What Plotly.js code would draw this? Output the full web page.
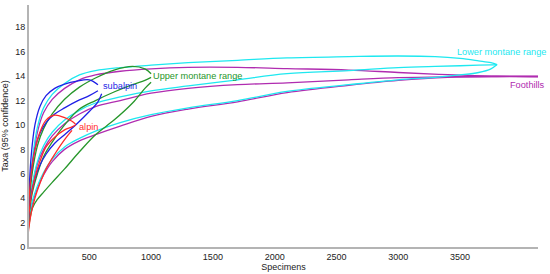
<!DOCTYPE html>
<html>
<head>
<meta charset="utf-8">
<script src="https://cdn.plot.ly/plotly-3.0.1.min.js"></script>
<style>
  body { margin: 0; background: #fff; }
  #rarefaction { width: 550px; height: 274px; }
</style>
</head>
<body>
<div id="rarefaction"></div>
<script>
// Lower montane range
var lowerMontaneX = [1, 15, 40, 80, 130, 200, 300, 420, 550, 750, 1000, 1300, 1700, 2100, 2600, 3000, 3300, 3500, 3650, 3750, 3800];
var lowerMontaneHigh = [1, 4.2, 7.2, 9.8, 11.4, 12.5, 13.4, 14.1, 14.45, 14.7, 14.9, 15.1, 15.3, 15.5, 15.6, 15.65, 15.6, 15.45, 15.25, 15.1, 14.95];
var lowerMontaneMean = [1, 3.3, 5.2, 7.0, 8.3, 9.4, 10.4, 11.2, 11.8, 12.3, 12.8, 13.2, 13.7, 14.2, 14.45, 14.7, 14.8, 14.85, 14.9, 14.93, 14.95];
var lowerMontaneLow = [1, 2.5, 3.8, 5.0, 6.1, 7.2, 8.2, 8.9, 9.5, 10.2, 10.85, 11.4, 12.0, 12.75, 13.3, 13.7, 13.9, 14.1, 14.3, 14.6, 14.95];

// Foothills
var foothillsX = [1, 15, 40, 80, 130, 200, 300, 420, 550, 750, 1000, 1300, 1700, 2100, 2600, 3000, 3400, 3800, 4131];
var foothillsHigh = [1, 4.0, 6.9, 9.4, 11.0, 12.1, 13.0, 13.7, 14.1, 14.4, 14.6, 14.72, 14.72, 14.62, 14.5, 14.3, 14.12, 14.0, 13.97];
var foothillsMean = [1, 3.2, 5.0, 6.8, 8.0, 9.1, 10.1, 10.9, 11.5, 12.0, 12.6, 13.0, 13.3, 13.45, 13.7, 13.88, 13.95, 13.97, 13.97];
var foothillsLow = [1, 2.4, 3.6, 4.8, 5.9, 7.0, 8.0, 8.7, 9.2, 9.9, 10.7, 11.3, 11.9, 12.65, 13.25, 13.65, 13.9, 13.97, 13.97];

// Upper montane range
var upperMontaneX = [1, 15, 40, 80, 130, 200, 300, 420, 550, 700, 850, 950, 1000];
var upperMontaneHigh = [1, 3.8, 6.2, 8.3, 9.7, 10.9, 12.1, 13.1, 13.85, 14.5, 14.8, 14.6, 14.2];
var upperMontaneMean = [1, 2.8, 4.5, 6.0, 7.4, 8.6, 10.0, 11.3, 12.0, 12.7, 13.3, 13.65, 13.9];
var upperMontaneLow = [1, 2.0, 3.2, 3.9, 4.5, 5.3, 6.4, 7.8, 9.2, 10.4, 11.8, 13.0, 13.5];

// subalpin
var subalpinX = [1, 10, 30, 60, 100, 150, 220, 300, 400, 500, 570, 600];
var subalpinHigh = [1, 4.0, 7.5, 10.0, 11.5, 12.4, 13.0, 13.35, 13.6, 13.7, 13.3, null];
var subalpinMean = [1, 3.5, 6.0, 8.0, 9.3, 10.2, 10.9, 11.4, 11.95, 12.4, 12.8, null];
var subalpinLow = [1, 2.5, 4.3, 5.6, 6.7, 7.6, 8.5, 9.2, 10.1, 11.1, 11.9, 12.55];

// alpin
var alpinX = [1, 10, 30, 60, 100, 150, 220, 300, 360, 390];
var alpinHigh = [1, 3.5, 6.0, 8.0, 9.4, 10.4, 10.8, 10.6, 10.3, 10.05];
var alpinMean = [0.8, 2.5, 4.2, 5.7, 7.0, 8.2, 9.0, 9.6, 9.85, 10.0];
var alpinLow = [0.5, 1.5, 2.8, 4.0, 5.2, 6.4, 7.6, 8.8, 9.55, null];

var groupNames = ["Foothills", "Lower montane range", "Upper montane range", "subalpin", "alpin"];
var groupColors = ["#b02cb0", "#1ee8f0", "#26962a", "#1f1fe6", "#ff2a2a"];

var groups = [
    {x: foothillsX, ys: [foothillsHigh, foothillsMean, foothillsLow]},
    {x: lowerMontaneX, ys: [lowerMontaneHigh, lowerMontaneMean, lowerMontaneLow]},
    {x: upperMontaneX, ys: [upperMontaneHigh, upperMontaneMean, upperMontaneLow]},
    {x: subalpinX, ys: [subalpinHigh, subalpinMean, subalpinLow]},
    {x: alpinX, ys: [alpinHigh, alpinMean, alpinLow]}
];

// label spots next to the curve ends
var labelX = [3905, 3476, 1016, 611, 417];
var labelY = [13.3, 16.0, 14.05, 13.2, 9.85];

var data = [];
for (let g = 0; g < groups.length; g++) {
    for (let k = 0; k < 3; k++) {
        data.push({
            x: groups[g].x,
            y: groups[g].ys[k],
            type: "scatter",
            mode: "lines",
            name: groupNames[g],
            line: {color: groupColors[g], width: 1.3, shape: "spline", smoothing: 1},
            hoverinfo: "skip"
        });
    }
}

var annotations = [];
for (let g = 0; g < groupNames.length; g++) {
    annotations.push({
        x: labelX[g], y: labelY[g], xref: "x", yref: "y",
        text: groupNames[g], showarrow: false,
        xanchor: "left", yanchor: "middle",
        xshift: -2,
        font: {family: "Liberation Sans, Arial, sans-serif", size: 9.2, color: groupColors[g]}
    });
}

var layout = {
    width: 550,
    height: 274,
    margin: {l: 29, r: 12, t: 5, b: 27},
    paper_bgcolor: "#fff",
    plot_bgcolor: "#fff",
    showlegend: false,
    font: {family: "Liberation Sans, Arial, sans-serif", size: 9, color: "#222"},
    xaxis: {
        range: [12, 4131],
        tickvals: [500, 1000, 1500, 2000, 2500, 3000, 3500],
        showgrid: false, zeroline: false,
        showline: true, linecolor: "#b4b4b4", linewidth: 2,
        ticks: "", ticklabelstandoff: 0,
        title: {text: "Specimens", standoff: 1, font: {size: 9}}
    },
    yaxis: {
        range: [0, 19.83],
        tickvals: [0, 2, 4, 6, 8, 10, 12, 14, 16, 18],
        showgrid: false, zeroline: false,
        showline: true, linecolor: "#b4b4b4", linewidth: 2,
        ticks: "",
        title: {text: "Taxa (95% confidence)", standoff: 7, font: {size: 9}}
    },
    annotations: annotations
};

Plotly.newPlot("rarefaction", data, layout, {staticPlot: true});
</script>
</body>
</html>
